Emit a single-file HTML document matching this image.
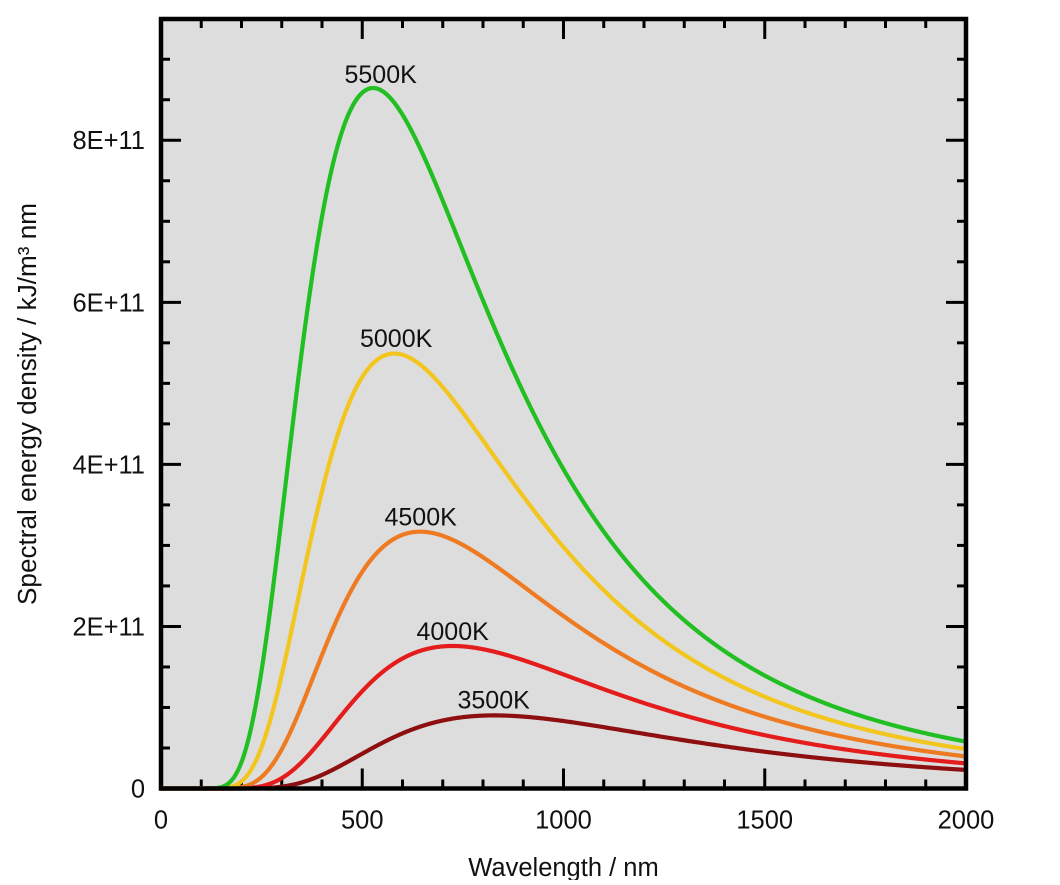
<!DOCTYPE html>
<html>
<head>
<meta charset="utf-8">
<style>
  html, body { margin:0; padding:0; background:#ffffff; }
  body { width:1060px; height:880px; overflow:hidden; }
  svg text { font-family: "Liberation Sans", Arial, sans-serif; fill:#111; }
</style>
</head>
<body>
<svg id="chart" width="1060" height="880" viewBox="0 0 1060 880" xmlns="http://www.w3.org/2000/svg">
  <rect x="0" y="0" width="1060" height="880" fill="#ffffff"/>
  <rect x="161" y="19" width="805" height="769.5" fill="#dddddd"/>
  <g id="ticks" stroke="#000" stroke-width="3"></g>
  <g id="curves" fill="none" stroke-width="4.2" stroke-linejoin="round" stroke-linecap="round"></g>
  <rect x="161" y="19" width="805" height="769.5" fill="none" stroke="#000" stroke-width="4.5"/>

  <!-- y tick labels -->
  <g font-size="25.5" text-anchor="end">
    <text x="145" y="797.5">0</text>
    <text x="145" y="635.5">2E+11</text>
    <text x="145" y="473.5">4E+11</text>
    <text x="145" y="311.5">6E+11</text>
    <text x="145" y="149">8E+11</text>
  </g>
  <!-- x tick labels -->
  <g font-size="25.5" text-anchor="middle">
    <text x="161" y="828.5">0</text>
    <text x="362.25" y="828.5">500</text>
    <text x="563.5" y="828.5">1000</text>
    <text x="764.75" y="828.5">1500</text>
    <text x="966" y="828.5">2000</text>
  </g>
  <text x="563.5" y="876" font-size="25.5" text-anchor="middle">Wavelength / nm</text>
  <text transform="translate(36,404) rotate(-90)" font-size="25.5" text-anchor="middle" textLength="402" lengthAdjust="spacingAndGlyphs">Spectral energy density / kJ/m³ nm</text>

  <!-- curve labels -->
  <g font-size="25">
    <text x="344.5" y="83">5500K</text>
    <text x="360" y="347">5000K</text>
    <text x="384.5" y="525.5">4500K</text>
    <text x="416.5" y="640">4000K</text>
    <text x="457.5" y="708.5">3500K</text>
  </g>
</svg>
<script>
(function(){
  var NS = "http://www.w3.org/2000/svg";
  var X0 = 161, SX = 805/2000, Y0 = 788.5, SY = 81.03; // SY per 1E+11
  function px(l){ return X0 + l*SX; }
  function py(v){ return Y0 - v*SY; }
  var ticks = document.getElementById('ticks');
  function line(x1,y1,x2,y2){
    var l = document.createElementNS(NS,'line');
    l.setAttribute('x1',x1); l.setAttribute('y1',y1);
    l.setAttribute('x2',x2); l.setAttribute('y2',y2);
    ticks.appendChild(l);
  }
  for (var n=100; n<2000; n+=100){
    var x = px(n);
    var len = (n%500===0) ? 20 : 9;
    line(x, 788.5, x, 788.5-len);
    line(x, 19, x, 19+len);
  }
  for (var k=1; k<=18; k++){
    var v = k*0.5;
    var y = py(v);
    if (y < 22) continue;
    var len2 = (k%4===0) ? 20 : 9;
    line(161, y, 161+len2, y);
    line(966, y, 966-len2, y);
  }
  var C1 = 4.99504e-24, C2 = 1.438777e-2;
  function u(lnm, T){
    var lm = lnm*1e-9;
    var e = C2/(lm*T);
    if (e > 700) return 0;
    return C1/Math.pow(lm,5)/(Math.exp(e)-1) * 1e6 / 1e11;
  }
  var series = [
    [3500, '#8e0f0f'],
    [4000, '#e41c1c'],
    [4500, '#ee7a22'],
    [5000, '#f2c61f'],
    [5500, '#22bf22']
  ];
  var g = document.getElementById('curves');
  series.forEach(function(s){
    var d = '';
    for (var l=1; l<=2000; l+=2){
      var v = u(l, s[0]);
      var xx = px(l).toFixed(2), yy = py(v).toFixed(2);
      d += (d ? 'L' : 'M') + xx + ' ' + yy;
    }
    var p = document.createElementNS(NS,'path');
    p.setAttribute('d', d);
    p.setAttribute('stroke', s[1]);
    g.appendChild(p);
  });
})();
</script>
</body>
</html>
